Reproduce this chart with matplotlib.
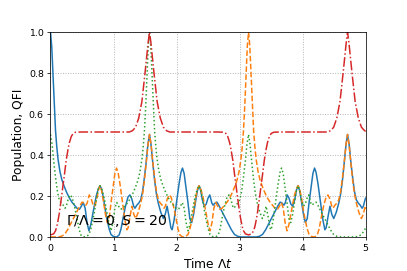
import matplotlib
matplotlib.use('Agg')
import matplotlib.pyplot as plt

# ---- values ----
# blue, solid
t_blue = [0.0, 0.02, 0.04, 0.06, 0.08, 0.10, 0.12, 0.15, 0.18, 0.22, 0.26, 0.30, 0.34, 0.38,
          0.42, 0.46, 0.49, 0.52, 0.55, 0.58, 0.61, 0.64, 0.67, 0.70, 0.73, 0.76, 0.785,
          0.81, 0.84, 0.87, 0.90, 0.93, 0.96, 1.00, 1.05, 1.09, 1.12, 1.15, 1.19, 1.23,
          1.26, 1.29, 1.32, 1.34, 1.37, 1.40, 1.43, 1.46, 1.49, 1.52, 1.545, 1.571, 1.595,
          1.62, 1.65, 1.68, 1.71, 1.75, 1.79, 1.82, 1.85, 1.88, 1.91, 1.93, 1.96, 2.00,
          2.04, 2.07, 2.094, 2.12, 2.15, 2.18, 2.21, 2.24, 2.27, 2.30, 2.33, 2.356, 2.38,
          2.41, 2.44, 2.47, 2.50, 2.527, 2.56, 2.58, 2.61, 2.64, 2.67, 2.71, 2.76, 2.82,
          2.87, 2.92, 2.97, 3.02, 3.142, 3.263, 3.313, 3.363, 3.413, 3.463, 3.523, 3.573,
          3.613, 3.643, 3.673, 3.703, 3.723, 3.756, 3.783, 3.813, 3.843, 3.873, 3.903,
          3.927, 3.953, 3.983, 4.013, 4.043, 4.073, 4.103, 4.133, 4.163, 4.189, 4.213,
          4.243, 4.283, 4.323, 4.353, 4.373, 4.403, 4.433, 4.463, 4.493, 4.533, 4.573,
          4.603, 4.633, 4.663, 4.688, 4.712, 4.738, 4.763, 4.793, 4.823, 4.853, 4.883,
          4.913, 4.943, 4.963, 4.993, 5.0]
p_blue = [1.00, 0.93, 0.79, 0.64, 0.52, 0.44, 0.38, 0.32, 0.28, 0.245, 0.215, 0.19, 0.17,
          0.155, 0.14, 0.135, 0.15, 0.168, 0.14, 0.07, 0.03, 0.06, 0.11, 0.16, 0.205, 0.235,
          0.25, 0.235, 0.19, 0.13, 0.08, 0.04, 0.012, 0.002, 0.0, 0.01, 0.04, 0.09, 0.15,
          0.195, 0.205, 0.185, 0.15, 0.14, 0.155, 0.165, 0.18, 0.22, 0.29, 0.37, 0.45, 0.50,
          0.45, 0.37, 0.28, 0.21, 0.165, 0.12, 0.09, 0.11, 0.15, 0.10, 0.045, 0.035, 0.08,
          0.17, 0.26, 0.315, 0.336, 0.31, 0.24, 0.17, 0.09, 0.07, 0.11, 0.17, 0.225, 0.25,
          0.23, 0.18, 0.15, 0.16, 0.19, 0.205, 0.165, 0.155, 0.165, 0.17, 0.155, 0.13, 0.10,
          0.065, 0.035, 0.012, 0.003, 0.0, 0.0, 0.0, 0.003, 0.012, 0.035, 0.065, 0.10, 0.13,
          0.155, 0.17, 0.165, 0.155, 0.165, 0.205, 0.19, 0.16, 0.15, 0.18, 0.23, 0.25,
          0.225, 0.17, 0.11, 0.07, 0.09, 0.17, 0.24, 0.31, 0.336, 0.315, 0.26, 0.17, 0.08,
          0.035, 0.045, 0.10, 0.15, 0.11, 0.09, 0.12, 0.165, 0.21, 0.28, 0.37, 0.45, 0.50,
          0.45, 0.37, 0.29, 0.22, 0.18, 0.165, 0.155, 0.14, 0.15, 0.185, 0.19]

# orange, dashed
t_orange = [0.0, 0.122, 0.172, 0.222, 0.272, 0.322, 0.382, 0.432, 0.472, 0.502, 0.532,
            0.562, 0.582, 0.615, 0.642, 0.672, 0.702, 0.732, 0.762, 0.786, 0.812, 0.842,
            0.872, 0.902, 0.932, 0.962, 0.992, 1.022, 1.048, 1.072, 1.102, 1.142, 1.182,
            1.212, 1.232, 1.262, 1.292, 1.322, 1.352, 1.392, 1.432, 1.462, 1.492, 1.522,
            1.547, 1.571, 1.597, 1.622, 1.652, 1.682, 1.712, 1.742, 1.772, 1.802, 1.822,
            1.852, 1.882, 1.912, 1.952, 1.992, 2.022, 2.052, 2.092, 2.142, 2.182, 2.212,
            2.242, 2.272, 2.302, 2.332, 2.357, 2.382, 2.412, 2.442, 2.472, 2.502, 2.532,
            2.562, 2.592, 2.622, 2.652, 2.682, 2.722, 2.762, 2.802, 2.842, 2.882, 2.922,
            2.962, 2.992, 3.022, 3.042, 3.062, 3.082, 3.102, 3.122, 3.142, 3.162, 3.182,
            3.202, 3.222, 3.242, 3.262, 3.292, 3.322, 3.362, 3.402, 3.442, 3.482, 3.522,
            3.562, 3.602, 3.632, 3.662, 3.692, 3.722, 3.752, 3.782, 3.812, 3.842, 3.872,
            3.902, 3.927, 3.952, 3.982, 4.012, 4.042, 4.072, 4.102, 4.142, 4.192, 4.232,
            4.262, 4.292, 4.332, 4.372, 4.402, 4.432, 4.462, 4.482, 4.512, 4.542, 4.572,
            4.602, 4.632, 4.662, 4.687, 4.712, 4.737, 4.762, 4.792, 4.822, 4.852, 4.892,
            4.932, 4.962, 4.992, 5.0]
p_orange = [0.0, 0.0, 0.003, 0.012, 0.035, 0.065, 0.10, 0.13, 0.155, 0.17, 0.165, 0.155,
            0.165, 0.205, 0.19, 0.16, 0.15, 0.18, 0.23, 0.25, 0.225, 0.17, 0.11, 0.07, 0.09,
            0.17, 0.24, 0.31, 0.336, 0.315, 0.26, 0.17, 0.08, 0.035, 0.045, 0.10, 0.15, 0.11,
            0.09, 0.12, 0.165, 0.21, 0.28, 0.37, 0.45, 0.50, 0.45, 0.37, 0.29, 0.22, 0.18,
            0.165, 0.155, 0.14, 0.15, 0.185, 0.205, 0.195, 0.15, 0.09, 0.04, 0.01, 0.0,
            0.002, 0.012, 0.04, 0.08, 0.13, 0.19, 0.235, 0.25, 0.235, 0.205, 0.16, 0.11,
            0.06, 0.03, 0.07, 0.14, 0.168, 0.15, 0.135, 0.14, 0.155, 0.17, 0.19, 0.215,
            0.245, 0.28, 0.32, 0.38, 0.44, 0.52, 0.64, 0.79, 0.93, 1.0, 0.93, 0.79, 0.64,
            0.52, 0.44, 0.38, 0.32, 0.28, 0.245, 0.215, 0.19, 0.17, 0.155, 0.14, 0.135, 0.15,
            0.168, 0.14, 0.07, 0.03, 0.06, 0.11, 0.16, 0.205, 0.235, 0.25, 0.235, 0.19, 0.13,
            0.08, 0.04, 0.012, 0.002, 0.0, 0.01, 0.04, 0.09, 0.15, 0.195, 0.205, 0.185, 0.15,
            0.14, 0.155, 0.165, 0.18, 0.22, 0.29, 0.37, 0.45, 0.50, 0.45, 0.37, 0.28, 0.21,
            0.165, 0.12, 0.09, 0.11, 0.15, 0.137]

# green, dotted
t_green = [0.0, 0.026, 0.051, 0.081, 0.111, 0.141, 0.171, 0.201, 0.231, 0.251, 0.281,
           0.311, 0.341, 0.381, 0.421, 0.451, 0.481, 0.521, 0.571, 0.611, 0.641, 0.671,
           0.701, 0.731, 0.761, 0.786, 0.811, 0.841, 0.871, 0.901, 0.931, 0.961, 0.991,
           1.021, 1.051, 1.081, 1.111, 1.151, 1.191, 1.231, 1.271, 1.311, 1.351, 1.391,
           1.421, 1.451, 1.471, 1.491, 1.511, 1.531, 1.551, 1.571, 1.591, 1.611, 1.631,
           1.651, 1.671, 1.691, 1.721, 1.751, 1.791, 1.831, 1.871, 1.911, 1.951, 1.991,
           2.031, 2.061, 2.091, 2.121, 2.151, 2.181, 2.211, 2.241, 2.271, 2.301, 2.331,
           2.356, 2.381, 2.411, 2.441, 2.471, 2.501, 2.531, 2.571, 2.621, 2.661, 2.691,
           2.721, 2.761, 2.801, 2.831, 2.861, 2.891, 2.911, 2.941, 2.971, 3.001, 3.031,
           3.061, 3.091, 3.116, 3.142, 3.166, 3.191, 3.221, 3.251, 3.281, 3.321, 3.361,
           3.391, 3.421, 3.451, 3.481, 3.501, 3.531, 3.571, 3.611, 3.641, 3.665, 3.691,
           3.721, 3.751, 3.781, 3.811, 3.841, 3.871, 3.901, 3.927, 3.951, 3.981, 4.011,
           4.041, 4.071, 4.098, 4.131, 4.151, 4.181, 4.211, 4.241, 4.281, 4.331, 4.391,
           4.441, 4.491, 4.541, 4.591, 4.712, 4.834, 4.884, 4.934, 4.984, 5.0]
p_green = [0.50, 0.45, 0.37, 0.29, 0.22, 0.18, 0.165, 0.155, 0.14, 0.15, 0.185, 0.205,
           0.195, 0.15, 0.09, 0.04, 0.01, 0.0, 0.002, 0.012, 0.04, 0.08, 0.13, 0.19, 0.235,
           0.25, 0.235, 0.205, 0.16, 0.11, 0.06, 0.03, 0.07, 0.14, 0.168, 0.15, 0.135, 0.14,
           0.155, 0.17, 0.19, 0.215, 0.245, 0.28, 0.32, 0.38, 0.44, 0.52, 0.64, 0.79, 0.93,
           1.0, 0.93, 0.79, 0.64, 0.52, 0.44, 0.38, 0.32, 0.28, 0.245, 0.215, 0.19, 0.17,
           0.155, 0.14, 0.135, 0.15, 0.168, 0.14, 0.07, 0.03, 0.06, 0.11, 0.16, 0.205,
           0.235, 0.25, 0.235, 0.19, 0.13, 0.08, 0.04, 0.012, 0.002, 0.0, 0.01, 0.04, 0.09,
           0.15, 0.195, 0.205, 0.185, 0.15, 0.14, 0.155, 0.165, 0.18, 0.22, 0.29, 0.37,
           0.45, 0.50, 0.45, 0.37, 0.28, 0.21, 0.165, 0.12, 0.09, 0.11, 0.15, 0.10, 0.045,
           0.035, 0.08, 0.17, 0.26, 0.315, 0.336, 0.31, 0.24, 0.17, 0.09, 0.07, 0.11, 0.17,
           0.225, 0.25, 0.23, 0.18, 0.15, 0.16, 0.19, 0.205, 0.165, 0.155, 0.165, 0.17,
           0.155, 0.13, 0.10, 0.065, 0.035, 0.012, 0.003, 0.0, 0.0, 0.0, 0.003, 0.012,
           0.035, 0.045]

# red, dash-dot (QFI)
t_red = [0.0, 0.05, 0.08, 0.10, 0.12, 0.14, 0.16, 0.18, 0.20, 0.22, 0.25, 0.28, 0.30, 0.33,
         0.36, 0.40, 0.50, 1.25, 1.30, 1.35, 1.40, 1.45, 1.50, 1.53, 1.55, 1.571, 1.592,
         1.612, 1.642, 1.692, 1.742, 1.792, 1.842, 1.892, 2.642, 2.742, 2.782, 2.812, 2.842,
         2.862, 2.892, 2.922, 2.942, 2.962, 2.982, 3.002, 3.022, 3.042, 3.062, 3.092, 3.142,
         3.192, 3.222, 3.242, 3.262, 3.282, 3.302, 3.322, 3.342, 3.362, 3.392, 3.422, 3.442,
         3.472, 3.502, 3.542, 3.642, 4.392, 4.442, 4.492, 4.542, 4.592, 4.642, 4.672, 4.692,
         4.712, 4.733, 4.753, 4.783, 4.833, 4.883, 4.933, 4.983, 5.0]
q_red = [0.01, 0.015, 0.03, 0.05, 0.08, 0.115, 0.16, 0.205, 0.255, 0.30, 0.375, 0.43, 0.46,
         0.49, 0.505, 0.511, 0.512, 0.512, 0.518, 0.535, 0.58, 0.66, 0.80, 0.89, 0.95, 1.0,
         0.95, 0.89, 0.80, 0.66, 0.58, 0.535, 0.518, 0.512, 0.512, 0.511, 0.505, 0.49, 0.46,
         0.43, 0.375, 0.30, 0.255, 0.205, 0.16, 0.115, 0.08, 0.05, 0.03, 0.015, 0.01, 0.015,
         0.03, 0.05, 0.08, 0.115, 0.16, 0.205, 0.255, 0.30, 0.375, 0.43, 0.46, 0.49, 0.505,
         0.511, 0.512, 0.512, 0.518, 0.535, 0.58, 0.66, 0.80, 0.89, 0.95, 1.0, 0.95, 0.89,
         0.80, 0.66, 0.58, 0.535, 0.518, 0.516]

label_text = r'$\Gamma/\Lambda = 0, S = 20$'

# ---- figure ----
fig = plt.figure(figsize=(6, 4), dpi=407 / 6)
ax = fig.add_axes([0.124, 0.1255, 0.7745, 0.7555])

ax.plot(t_blue, p_blue, color='tab:blue', lw=1.6)
ax.plot(t_orange, p_orange, color='tab:orange', lw=1.6, ls='--')
ax.plot(t_green, p_green, color='tab:green', lw=1.6, ls=':')
ax.plot(t_red, q_red, color='tab:red', lw=1.6, ls='-.')

ax.text(0.24, 0.08, label_text, fontsize=15, va='center')
ax.set_xlim(0, 5)
ax.set_ylim(0, 1)
ax.grid(True, ls=':', color='#b0b0b0', lw=1)
ax.set_xlabel(r'Time $\Lambda t$', fontsize=13)
ax.set_ylabel('Population, QFI', fontsize=13)

fig.savefig('out.png', dpi=407 / 6)
